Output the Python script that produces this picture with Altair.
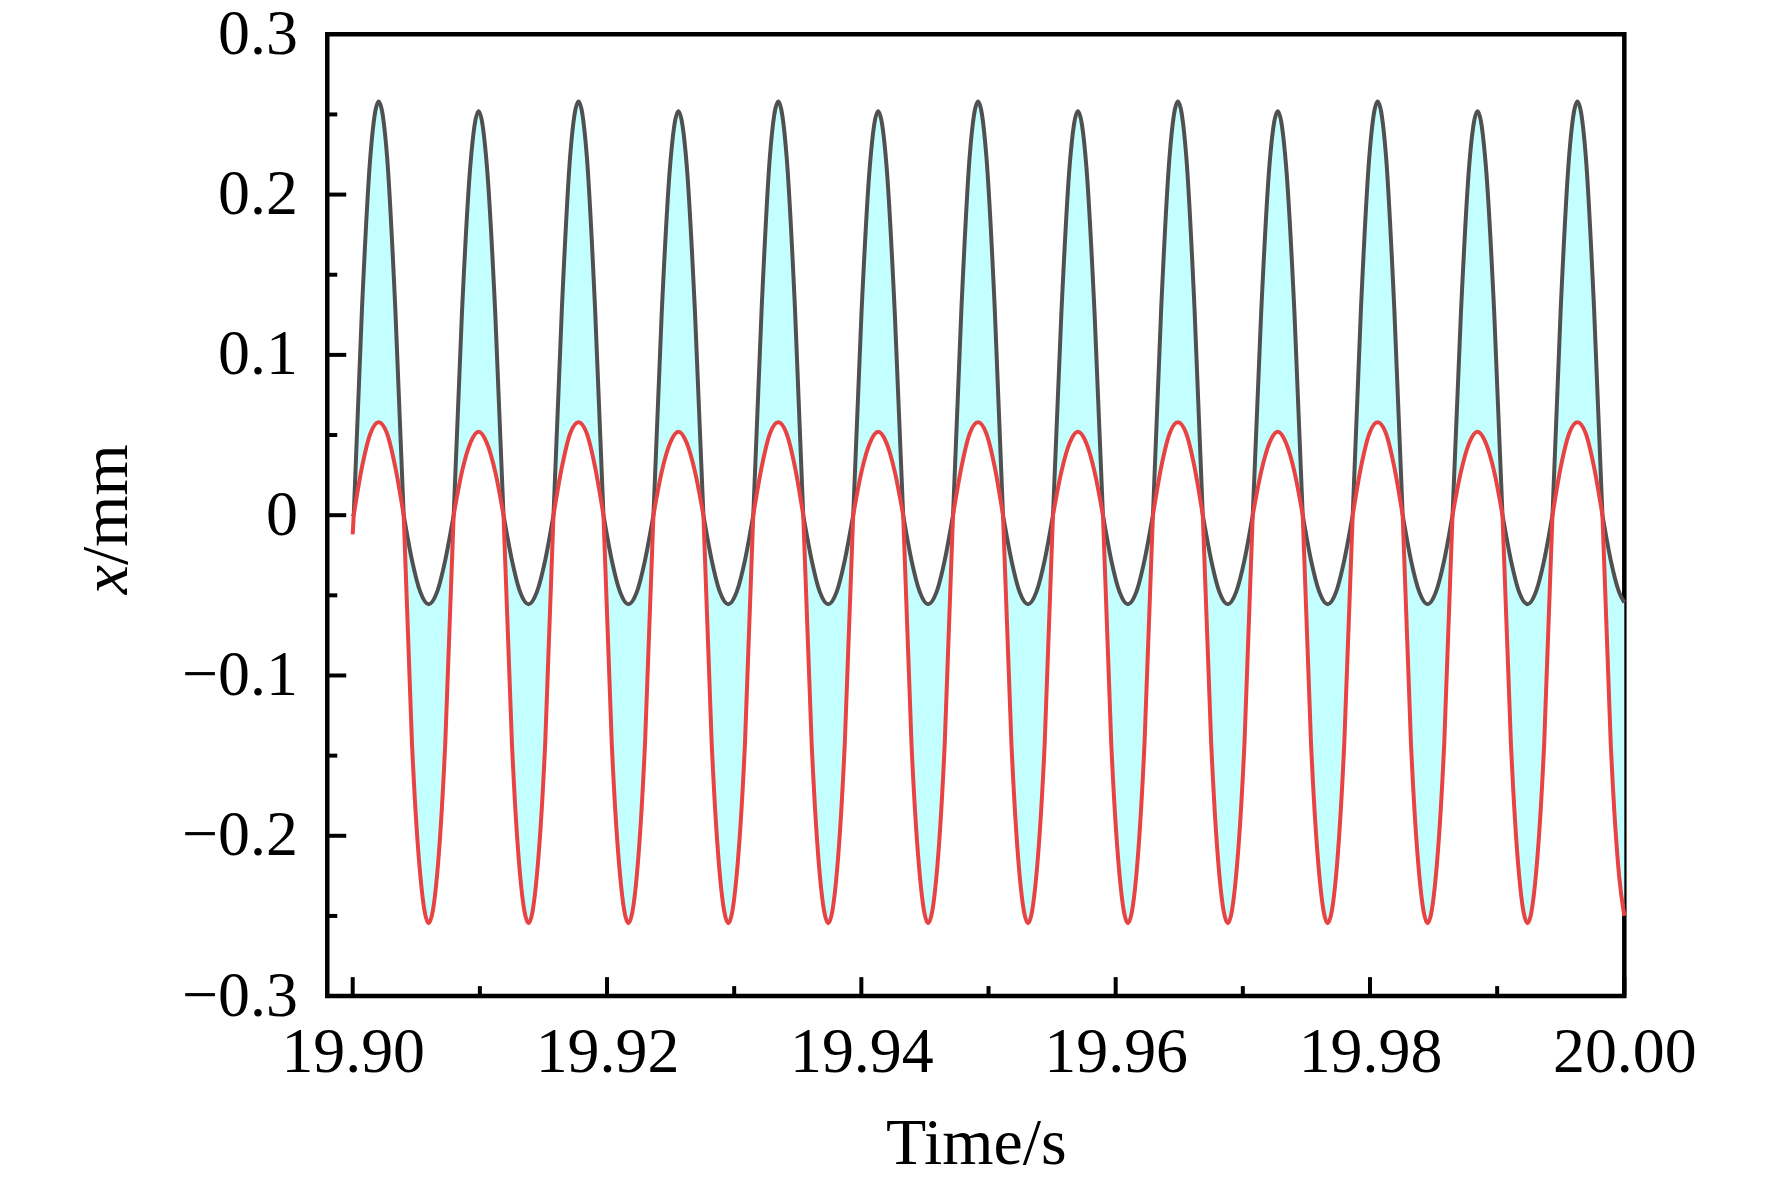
import altair as alt
import pandas as pd

FONT = "Liberation Serif"

# ---- data ----
time = [19.90000,
 19.90008, 19.90073, 19.90139, 19.90204, 19.90270, 19.90335, 19.90401, 19.90466, 19.90532, 19.90597, 19.90663, 19.90728,
 19.90794, 19.90859, 19.90925, 19.90990, 19.91055, 19.91121, 19.91186, 19.91252, 19.91317, 19.91383, 19.91448, 19.91514,
 19.91579, 19.91645, 19.91710, 19.91776, 19.91841, 19.91906, 19.91972, 19.92037, 19.92103, 19.92168, 19.92234, 19.92299,
 19.92365, 19.92430, 19.92496, 19.92561, 19.92627, 19.92692, 19.92758, 19.92823, 19.92888, 19.92954, 19.93019, 19.93085,
 19.93150, 19.93216, 19.93281, 19.93347, 19.93412, 19.93478, 19.93543, 19.93609, 19.93674, 19.93740, 19.93805, 19.93870,
 19.93936, 19.94001, 19.94067, 19.94132, 19.94198, 19.94263, 19.94329, 19.94394, 19.94460, 19.94525, 19.94591, 19.94656,
 19.94721, 19.94787, 19.94852, 19.94918, 19.94983, 19.95049, 19.95114, 19.95180, 19.95245, 19.95311, 19.95376, 19.95442,
 19.95507, 19.95573, 19.95638, 19.95703, 19.95769, 19.95834, 19.95900, 19.95965, 19.96031, 19.96096, 19.96162, 19.96227,
 19.96293, 19.96358, 19.96424, 19.96489, 19.96555, 19.96620, 19.96685, 19.96751, 19.96816, 19.96882, 19.96947, 19.97013,
 19.97078, 19.97144, 19.97209, 19.97275, 19.97340, 19.97406, 19.97471, 19.97536, 19.97602, 19.97667, 19.97733, 19.97798,
 19.97864, 19.97929, 19.97995, 19.98060, 19.98126, 19.98191, 19.98257, 19.98322, 19.98388, 19.98453, 19.98518, 19.98584,
 19.98649, 19.98715, 19.98780, 19.98846, 19.98911, 19.98977, 19.99042, 19.99108, 19.99173, 19.99239, 19.99304, 19.99370,
 19.99435, 19.99500, 19.99566, 19.99631, 19.99697, 19.99762, 19.99828, 19.99893, 19.99959,
 20.00000]

gray = [-0.001,
 0, 0.129, 0.224, 0.258, 0.224, 0.129, 0, -0.028, -0.048, -0.0555, -0.048, -0.028,
 0, 0.126, 0.218, 0.252, 0.218, 0.126, 0, -0.028, -0.048, -0.0555, -0.048, -0.028,
 0, 0.129, 0.224, 0.258, 0.224, 0.129, 0, -0.028, -0.048, -0.0555, -0.048, -0.028,
 0, 0.126, 0.218, 0.252, 0.218, 0.126, 0, -0.028, -0.048, -0.0555, -0.048, -0.028,
 0, 0.129, 0.224, 0.258, 0.224, 0.129, 0, -0.028, -0.048, -0.0555, -0.048, -0.028,
 0, 0.126, 0.218, 0.252, 0.218, 0.126, 0, -0.028, -0.048, -0.0555, -0.048, -0.028,
 0, 0.129, 0.224, 0.258, 0.224, 0.129, 0, -0.028, -0.048, -0.0555, -0.048, -0.028,
 0, 0.126, 0.218, 0.252, 0.218, 0.126, 0, -0.028, -0.048, -0.0555, -0.048, -0.028,
 0, 0.129, 0.224, 0.258, 0.224, 0.129, 0, -0.028, -0.048, -0.0555, -0.048, -0.028,
 0, 0.126, 0.218, 0.252, 0.218, 0.126, 0, -0.028, -0.048, -0.0555, -0.048, -0.028,
 0, 0.129, 0.224, 0.258, 0.224, 0.129, 0, -0.028, -0.048, -0.0555, -0.048, -0.028,
 0, 0.126, 0.218, 0.252, 0.218, 0.126, 0, -0.028, -0.048, -0.0555, -0.048, -0.028,
 0, 0.129, 0.224, 0.258, 0.224, 0.129, 0, -0.028, -0.048,
 -0.0545]

red = [-0.012,
 0, 0.030, 0.051, 0.058, 0.051, 0.030, 0, -0.142, -0.225, -0.2545, -0.225, -0.142,
 0, 0.027, 0.045, 0.052, 0.045, 0.027, 0, -0.142, -0.225, -0.2545, -0.225, -0.142,
 0, 0.030, 0.051, 0.058, 0.051, 0.030, 0, -0.142, -0.225, -0.2545, -0.225, -0.142,
 0, 0.027, 0.045, 0.052, 0.045, 0.027, 0, -0.142, -0.225, -0.2545, -0.225, -0.142,
 0, 0.030, 0.051, 0.058, 0.051, 0.030, 0, -0.142, -0.225, -0.2545, -0.225, -0.142,
 0, 0.027, 0.045, 0.052, 0.045, 0.027, 0, -0.142, -0.225, -0.2545, -0.225, -0.142,
 0, 0.030, 0.051, 0.058, 0.051, 0.030, 0, -0.142, -0.225, -0.2545, -0.225, -0.142,
 0, 0.027, 0.045, 0.052, 0.045, 0.027, 0, -0.142, -0.225, -0.2545, -0.225, -0.142,
 0, 0.030, 0.051, 0.058, 0.051, 0.030, 0, -0.142, -0.225, -0.2545, -0.225, -0.142,
 0, 0.027, 0.045, 0.052, 0.045, 0.027, 0, -0.142, -0.225, -0.2545, -0.225, -0.142,
 0, 0.030, 0.051, 0.058, 0.051, 0.030, 0, -0.142, -0.225, -0.2545, -0.225, -0.142,
 0, 0.027, 0.045, 0.052, 0.045, 0.027, 0, -0.142, -0.225, -0.2545, -0.225, -0.142,
 0, 0.030, 0.051, 0.058, 0.051, 0.030, 0, -0.142, -0.225,
 -0.250]

x_major = [19.90, 19.92, 19.94, 19.96, 19.98, 20.00]
x_minor = [19.91, 19.93, 19.95, 19.97, 19.99]
y_labels = [-0.3, -0.2, -0.1, 0, 0.1, 0.2, 0.3]
y_major = [-0.2, -0.1, 0, 0.1, 0.2]
y_minor = [-0.25, -0.15, -0.05, 0.05, 0.15, 0.25]
x_title = "Time/s"
y_title_parts = ["x", "/mm"]

assert len(time) == len(gray) == len(red)

W, H = 1300, 964

# split the curves into lobes at the zero crossings (both curves meet at 0),
# so the sharp corners at the crossings are kept
rows = []
seg = 0
for i, (t, g, r) in enumerate(zip(time, gray, red)):
    if i >= 1 and g == 0 and r == 0:
        rows.append({"t": t, "gray": g, "red": r, "seg": seg})
        seg += 1
    rows.append({"t": t, "gray": g, "red": r, "seg": seg})
df = pd.DataFrame(rows)

xscale = alt.Scale(domain=[19.898, 20.0], nice=False, zero=False)
yscale = alt.Scale(domain=[-0.3, 0.3], nice=False, zero=False)

xaxis = alt.Axis(values=x_major, format=".2f", labelFont=FONT, labelFontSize=64,
                 labelColor="black", labelPadding=76, labelBaseline="alphabetic",
                 labelFlush=False, labelOverlap=False, ticks=False, tickSize=0,
                 domain=False, grid=False, title=x_title, titleFont=FONT,
                 titleFontSize=66, titleFontWeight="normal", titleColor="black",
                 titleBaseline="alphabetic", titleY=168)
yaxis = alt.Axis(values=y_labels,
                 labelExpr="datum.value == 0 ? '0' : format(datum.value, '.1f')",
                 labelFont=FONT, labelFontSize=64, labelColor="black",
                 labelPadding=30, labelBaseline="middle", labelOverlap=False,
                 ticks=False, tickSize=0, domain=False, grid=False, title=None)

base = alt.Chart(df)

area = base.mark_area(color="#C4FFFF", opacity=1, interpolate="monotone").encode(
    x=alt.X("t:Q", scale=xscale, axis=xaxis),
    y=alt.Y("gray:Q", scale=yscale, axis=yaxis),
    y2="red:Q",
    detail="seg:N",
)
gray_line = base.mark_line(color="#505050", strokeWidth=4, interpolate="monotone").encode(
    x=alt.X("t:Q", scale=xscale, axis=xaxis),
    y=alt.Y("gray:Q", scale=yscale, axis=yaxis),
    detail="seg:N",
)
red_line = base.mark_line(color="#E84242", strokeWidth=4, interpolate="monotone").encode(
    x=alt.X("t:Q", scale=xscale, axis=xaxis),
    y=alt.Y("red:Q", scale=yscale, axis=yaxis),
    detail="seg:N",
)

def xticks(vals, length):
    return alt.Chart(pd.DataFrame({"v": vals})).mark_rule(color="black", strokeWidth=4).encode(
        x=alt.X("v:Q", scale=xscale, axis=xaxis),
        y=alt.value(H), y2=alt.value(H - length),
    )

def yticks(vals, length):
    return alt.Chart(pd.DataFrame({"v": vals})).mark_rule(color="black", strokeWidth=4).encode(
        y=alt.Y("v:Q", scale=yscale, axis=yaxis),
        x=alt.value(0), x2=alt.value(length),
    )

ytitle_x = alt.Chart(pd.DataFrame({"s": [y_title_parts[0]]})).mark_text(
    font=FONT, fontSize=66, fontStyle="italic", angle=270, align="right",
    baseline="alphabetic", color="black").encode(
    x=alt.value(-201), y=alt.value(532), text="s:N")
ytitle_rest = alt.Chart(pd.DataFrame({"s": [y_title_parts[1]]})).mark_text(
    font=FONT, fontSize=66, angle=270, align="left",
    baseline="alphabetic", color="black").encode(
    x=alt.value(-201), y=alt.value(532), text="s:N")

chart = alt.layer(
    area, gray_line, red_line,
    xticks(x_major, 19), xticks(x_minor, 10),
    yticks(y_major, 19), yticks(y_minor, 10),
    ytitle_x, ytitle_rest,
).properties(
    width=W, height=H,
    autosize=alt.AutoSizeParams(type="none"),
    padding={"left": 320, "top": 25, "right": 140, "bottom": 185},
    background="white",
).configure_view(stroke="black", strokeWidth=4.5)

chart.save("out.html", embed_options={"renderer": "svg", "actions": False})
